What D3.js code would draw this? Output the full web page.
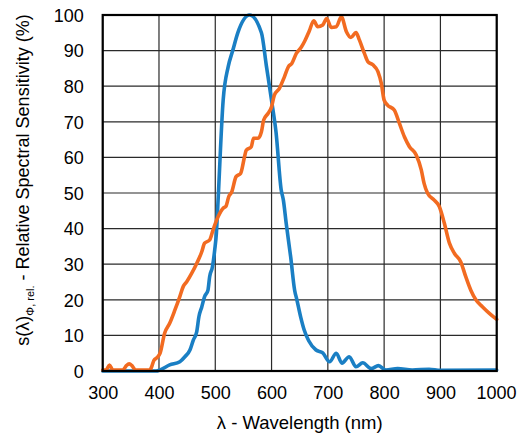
<!DOCTYPE html>
<html>
<head>
<meta charset="utf-8">
<script src="https://cdn.jsdelivr.net/npm/d3@7"></script>
<style>
  html, body { margin: 0; padding: 0; background: #fff; }
  text { font-family: "Liberation Sans", Arial, sans-serif; fill: #000; }
</style>
</head>
<body>
<svg id="chart" width="517" height="436"></svg>
<script>
// ---- data ----
const xTicks = [300, 400, 500, 600, 700, 800, 900, 1000];
const yTicks = [0, 10, 20, 30, 40, 50, 60, 70, 80, 90, 100];

const blueWavelength = [300, 330, 360, 395, 402, 419, 437, 446, 455, 461, 467, 471, 476, 481, 487, 490, 495, 499, 502, 505, 514, 523, 531, 540, 561, 582, 591, 600, 608, 617, 621, 626, 634, 641, 645, 652, 658, 666, 679, 691, 703, 715, 725, 738, 750, 762, 777, 790, 803, 824, 850, 880, 900, 1000];
const blueValue = [0, 0, 0, 0, 0.3, 1.7, 2.6, 4, 5.9, 8.7, 11, 15.3, 18, 20.9, 22.7, 26.5, 29.3, 34, 38.7, 48, 76, 85.5, 90, 95, 100, 95, 85.5, 76, 67, 51, 48, 41.5, 32, 22.7, 20, 15, 11.5, 8.5, 5.9, 5.1, 2.6, 5, 2.2, 4, 1.2, 2.3, 0.7, 1.5, 0.3, 0.7, 0.3, 0.5, 0.2, 0.3];

const orangeWavelength = [300, 306, 312, 318, 336, 342, 347, 352, 358, 384, 387, 391, 397, 402, 410, 419, 428, 437, 443, 449, 458, 467, 476, 481, 490, 496, 505, 514, 519, 524, 529, 537, 545, 552, 555, 564, 568, 576, 582, 586, 594, 600, 605, 614, 623, 630, 636, 644, 653, 659, 667, 675, 682, 691, 698, 706, 715, 724, 733, 741, 750, 756, 765, 771, 780, 789, 795, 800, 806, 818, 827, 836, 845, 857, 866, 871, 877, 889, 898, 907, 916, 925, 936, 945, 954, 963, 975, 987, 1000];
const orangeValue = [0.3, 0.3, 1.7, 0.3, 0.3, 1.5, 2, 1.5, 0.3, 0.3, 1.2, 3, 3.8, 5, 10.6, 13.4, 17, 20.9, 23.7, 25, 27.4, 30.2, 33.5, 35.9, 36.8, 39.6, 43.3, 45.7, 46.3, 49, 50.2, 54.6, 55.5, 60.2, 62, 63, 65.4, 65.4, 67.2, 70.5, 72.4, 74.2, 77.5, 79.4, 82.7, 85.5, 86.4, 89.2, 91, 92.7, 95.5, 98.4, 96.7, 97.2, 99, 96.5, 96.7, 99.5, 95.3, 93.7, 95.1, 93, 89.2, 86.9, 86, 84.1, 80.8, 76.1, 74.7, 73.3, 69.6, 65.8, 63, 60.7, 56.5, 52.7, 50, 48, 46.2, 41.5, 35.9, 33, 30.7, 26.5, 22.7, 20, 18, 16.2, 14.5];

// ---- layout ----
const svg = d3.select("#chart");
const plot = { left: 102.7, right: 496.7, top: 15, bottom: 371 };

const x = d3.scaleLinear().domain([300, 1000]).range([plot.left, plot.right]);
const y = d3.scaleLinear().domain([0, 100]).range([plot.bottom, plot.top]);

// grid
const grid = svg.append("g");
grid.selectAll("line.v").data(xTicks).join("line")
  .attr("x1", d => x(d)).attr("x2", d => x(d))
  .attr("y1", plot.top).attr("y2", plot.bottom)
  .attr("stroke", "#2a2a2a").attr("stroke-width", 1.2);
grid.selectAll("line.h").data(yTicks).join("line")
  .attr("y1", d => y(d)).attr("y2", d => y(d))
  .attr("x1", plot.left).attr("x2", plot.right)
  .attr("stroke", "#2a2a2a").attr("stroke-width", 1.2);

// axes (labels only)
const xAxis = d3.axisBottom(x).tickValues(xTicks).tickFormat(d3.format("d")).tickSize(0).tickPadding(0);
const gx = svg.append("g").attr("transform", `translate(0,${plot.bottom})`).call(xAxis);
gx.select(".domain").remove();
gx.selectAll("text").attr("font-size", 18).attr("dy", null).attr("y", 28)
  .attr("font-family", "Liberation Sans, Arial, sans-serif").attr("fill", "#000");
gx.selectAll("text").filter(d => d === 1000).attr("text-anchor", "end").attr("x", 517 - plot.right - 1);

const yAxis = d3.axisLeft(y).tickValues(yTicks).tickFormat(d3.format("d")).tickSize(0).tickPadding(0);
const gy = svg.append("g").attr("transform", `translate(${plot.left},0)`).call(yAxis);
gy.select(".domain").remove();
gy.selectAll("text").attr("font-size", 18).attr("x", -19).attr("dy", "0.35em")
  .attr("font-family", "Liberation Sans, Arial, sans-serif").attr("fill", "#000");

// curves
const line = d3.line().x(d => x(d[0])).y(d => y(d[1])).curve(d3.curveMonotoneX);
const blue = blueWavelength.map((w, i) => [w, blueValue[i]]);
const orange = orangeWavelength.map((w, i) => [w, orangeValue[i]]);

svg.append("path").datum(blue).attr("d", line)
  .attr("fill", "none").attr("stroke", "#1a7fc4").attr("stroke-width", 3.6)
  .attr("stroke-linejoin", "round").attr("stroke-linecap", "round");
svg.append("path").datum(orange).attr("d", line)
  .attr("fill", "none").attr("stroke", "#f26b21").attr("stroke-width", 3.6)
  .attr("stroke-linejoin", "round").attr("stroke-linecap", "round");

// frame
svg.append("rect")
  .attr("x", plot.left).attr("y", plot.top)
  .attr("width", plot.right - plot.left).attr("height", plot.bottom - plot.top)
  .attr("fill", "none").attr("stroke", "#000").attr("stroke-width", 2.2);

// axis titles
svg.append("text")
  .attr("x", (plot.left + plot.right) / 2).attr("y", 429)
  .attr("text-anchor", "middle").attr("font-size", 18.5)
  .text("λ - Wavelength (nm)");

const yt = svg.append("text")
  .attr("transform", `translate(29,${180}) rotate(-90)`)
  .attr("text-anchor", "middle").attr("font-size", 18);
yt.append("tspan").text("s(λ)");
yt.append("tspan").attr("font-size", 11).attr("dy", 5).text("Φ, rel.");
yt.append("tspan").attr("dy", -5).text(" - Relative Spectral Sensitivity (%)");
</script>
</body>
</html>
